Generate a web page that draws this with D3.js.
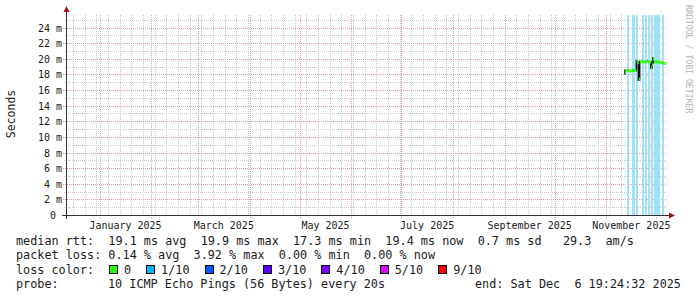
<!DOCTYPE html>
<html>
<head>
<meta charset="utf-8">
<script src="https://cdn.jsdelivr.net/npm/d3@7"></script>
<style>
html,body{margin:0;padding:0;background:#fff;}
svg{display:block;}
text{font-family:"DejaVu Sans Mono",monospace;fill:#1a1a1a;}
</style>
</head>
<body>
<svg id="chart" width="697" height="297"></svg>
<script>
// ---------------- data ----------------
const rangeStart = "2024-12-11T19:24:32Z";
const rangeEnd   = "2025-12-06T19:24:32Z";

const yTicks = [0, 2, 4, 6, 8, 10, 12, 14, 16, 18, 20, 22, 24];          // ms
const yTickLabels = ["0", "2 m", "4 m", "6 m", "8 m", "10 m", "12 m", "14 m", "16 m", "18 m", "20 m", "22 m", "24 m"];
const monthLabelMonths = ["2025-01-01", "2025-03-01", "2025-05-01", "2025-07-01", "2025-09-01", "2025-11-01"];

// median rtt (ms), each value holds until the next date
const medianDates = ["2025-11-12T05:00Z","2025-11-13T00:00Z","2025-11-14T00:00Z","2025-11-15T00:00Z","2025-11-16T00:00Z",
  "2025-11-17T00:00Z","2025-11-18T00:00Z","2025-11-19T03:00Z","2025-11-19T18:00Z","2025-11-20T12:00Z","2025-11-21T06:00Z",
  "2025-11-22T00:00Z","2025-11-23T00:00Z","2025-11-24T00:00Z","2025-11-25T00:00Z","2025-11-26T00:00Z","2025-11-27T00:00Z",
  "2025-11-27T20:00Z","2025-11-28T12:00Z","2025-11-29T00:00Z","2025-11-29T15:00Z","2025-11-30T00:00Z","2025-12-01T00:00Z",
  "2025-12-02T00:00Z","2025-12-03T00:00Z","2025-12-04T00:00Z","2025-12-05T00:00Z","2025-12-06T00:00Z","2025-12-06T17:00Z"];
const medianValues = [18.3, 18.5, 18.5, 18.4, 18.5,
  18.5, 18.5, 19.7, 19.5, 17.4, 19.6,
  19.6, 19.6, 19.6, 19.7, 19.6, 19.6,
  18.9, 19.2, 20.0, 19.6, 19.6, 19.6,
  19.6, 19.5, 19.5, 19.4, 19.4, null];

// smoke (spread of pings), ms
const smokeDates = ["2025-11-12T05:00Z","2025-11-19T00:00Z","2025-11-20T06:00Z","2025-11-21T00:00Z","2025-11-27T18:00Z","2025-11-28T12:00Z","2025-11-29T00:00Z"];
const smokeLow   = [18.1, 18.5, 17.3, 17.3, 18.8, 18.9, 19.5];
const smokeHigh  = [18.5, 19.7, 19.6, 19.6, 19.6, 19.4, 20.1];

// packet loss events (1/10)
const lossDates = ["2025-11-13T17:00Z","2025-11-16T03:00Z","2025-11-17T07:00Z","2025-11-18T19:00Z","2025-11-22T10:00Z",
  "2025-11-24T05:00Z","2025-11-26T00:00Z","2025-11-27T19:00Z","2025-11-29T15:00Z","2025-11-30T19:00Z",
  "2025-12-02T07:00Z","2025-12-04T10:00Z"];

const lossLabels = ["0", "1/10", "2/10", "3/10", "4/10", "5/10", "9/10"];
const lossColors = ["#26ff00", "#00b8ff", "#0059ff", "#5e00ff", "#7e00ff", "#dd00ff", "#ff0000"];

const legendRtt  = "median rtt:  19.1 ms avg  19.9 ms max  17.3 ms min  19.4 ms now  0.7 ms sd   29.3  am/s";
const legendLoss = "packet loss: 0.14 % avg  3.92 % max  0.00 % min  0.00 % now";
const legendProbeName = "probe:";
const legendProbe = "10 ICMP Echo Pings (56 Bytes) every 20s";
const legendEnd = "end: Sat Dec  6 19:24:32 2025";

// ---------------- drawing ----------------
const svg = d3.select("#chart");
const X0 = 66, X1 = 666, YT = 15, YB = 215;
const t0 = new Date(rangeStart), t1 = new Date(rangeEnd);
const x = d3.scaleUtc().domain([t0, t1]).range([X0, X1]);
const y = d3.scaleLinear().domain([0, 25.6]).range([YB, YT]);

const minorCol = "#c8c8c8", majorCol = "#e29a9a";
const g = svg.append("g").attr("shape-rendering", "crispEdges");

// minor vertical (weekly)
d3.utcMonday.range(t0, t1).forEach(d => {
  const px = Math.round(x(d)) + 0.5;
  g.append("line").attr("x1", px).attr("x2", px).attr("y1", YT).attr("y2", YB)
    .attr("stroke", minorCol).attr("stroke-dasharray", "1,1");
});
// minor horizontal (every 1 ms)
d3.range(1, 26).forEach(v => {
  if (v % 2 === 0) return;
  const py = Math.round(y(v)) + 0.5;
  g.append("line").attr("x1", X0 - 2).attr("x2", X1).attr("y1", py).attr("y2", py)
    .attr("stroke", minorCol).attr("stroke-dasharray", "1,1");
});
// major vertical (months)
d3.utcMonth.range(t0, t1).forEach(d => {
  const px = Math.round(x(d)) + 0.5;
  g.append("line").attr("x1", px).attr("x2", px).attr("y1", YT).attr("y2", YB + 3)
    .attr("stroke", majorCol).attr("stroke-dasharray", "1,1");
});
// major horizontal (every 2 ms)
yTicks.filter(v => v > 0).forEach(v => {
  const py = Math.round(y(v)) + 0.5;
  g.append("line").attr("x1", X0 - 3).attr("x2", X1).attr("y1", py).attr("y2", py)
    .attr("stroke", majorCol).attr("stroke-dasharray", "1,1");
});

// loss background bars
svg.append("g").attr("shape-rendering", "crispEdges").selectAll("rect").data(lossDates).join("rect")
  .attr("x", d => Math.round(x(new Date(d)))).attr("width", 1.5)
  .attr("y", YT).attr("height", YB - YT)
  .attr("fill", "#9fe0fb");

// smoke
svg.append("g").selectAll("rect").data(smokeDates).join("rect")
  .attr("x", d => x(new Date(d)) - 0.8).attr("width", 1.6)
  .attr("y", (d, i) => y(smokeHigh[i]) - 1)
  .attr("height", (d, i) => y(smokeLow[i]) - y(smokeHigh[i]) + 2)
  .attr("fill", "#111");

// median (colored by loss: 0 -> green)
const med = medianDates.map((d, i) => ({t: new Date(d), v: medianValues[i]}));
svg.append("g").selectAll("rect").data(med.slice(0, -1)).join("rect")
  .attr("x", (d, i) => x(d.t))
  .attr("width", (d, i) => Math.max(1, x(med[i + 1].t) - x(d.t)))
  .attr("y", d => y(d.v) - 1.5).attr("height", 3)
  .attr("fill", lossColors[0]);

// axes lines
const axisCol = "#333";
svg.append("line").attr("x1", X0 - 4).attr("x2", X1 + 4).attr("y1", YB + 0.5).attr("y2", YB + 0.5)
  .attr("stroke", axisCol).attr("shape-rendering", "crispEdges");
svg.append("line").attr("x1", X0 + 0.5).attr("x2", X0 + 0.5).attr("y1", YB + 4).attr("y2", YT - 4)
  .attr("stroke", axisCol).attr("shape-rendering", "crispEdges");
const arrowCol = "#9a1515";
svg.append("path").attr("d", `M${X1 + 3},${YB - 2.5} L${X1 + 9},${YB + 0.5} L${X1 + 3},${YB + 3.5} Z`).attr("fill", arrowCol);
svg.append("path").attr("d", `M${X0 - 2.5},${YT - 3} L${X0 + 0.5},${YT - 9} L${X0 + 3.5},${YT - 3} Z`).attr("fill", arrowCol);

// y axis labels via d3 axis
const yAxis = d3.axisLeft(y).tickValues(yTicks).tickSize(0).tickPadding(0)
  .tickFormat((d, i) => yTickLabels[i]);
const ya = svg.append("g").attr("transform", `translate(${X0 - 4},0)`).call(yAxis);
ya.select(".domain").remove();
ya.selectAll("text").attr("font-family", "DejaVu Sans Mono").attr("font-size", "10px").attr("fill", "#1a1a1a")
  .attr("dy", "0.36em")
  .attr("dx", (d) => d === 0 ? -6 : 0);

// x month labels centred on the month
monthLabelMonths.forEach(m => {
  const d = new Date(m + "T00:00:00Z");
  const cx = (x(d) + x(d3.utcMonth.offset(d, 1))) / 2;
  svg.append("text").attr("x", cx).attr("y", 229).attr("text-anchor", "middle")
    .attr("font-size", "10px").text(d3.utcFormat("%B %Y")(d));
});

// y title
svg.append("text").attr("transform", "translate(15,114) rotate(-90)").attr("text-anchor", "middle")
  .attr("font-size", "11.5px").text("Seconds");

// watermark
svg.append("text").attr("transform", "translate(686,5) rotate(90)")
  .attr("font-size", "8.2px").style("fill", "#b4b4b4").text("RRDTOOL / TOBI OETIKER");

// legend
const LX = 16, FS = 11.8, CH = FS * 0.602;
const rows = [245, 259.3, 273.6, 288];
function lt(str, xx, yy) {
  return svg.append("text").attr("x", xx).attr("y", yy).attr("font-size", FS + "px")
    .attr("xml:space", "preserve").style("white-space", "pre").text(str);
}
lt(legendRtt, LX, rows[0]);
lt(legendLoss, LX, rows[1]);
lt("loss color:", LX, rows[2]);
let bx = 109;
lossLabels.forEach((lab, i) => {
  svg.append("rect").attr("x", bx + 0.5).attr("y", rows[2] - 8.5).attr("width", 8).attr("height", 8)
    .attr("fill", lossColors[i]).attr("stroke", "#000").attr("stroke-width", 1).attr("shape-rendering", "crispEdges");
  lt(lab, bx + 15, rows[2]);
  bx = bx + 15 + lab.length * CH + 15;
});
lt(legendProbeName, LX, rows[3]);
lt(legendProbe, 108, rows[3]);
lt(legendEnd, 681 - legendEnd.length * CH, rows[3]);
</script>
</body>
</html>
